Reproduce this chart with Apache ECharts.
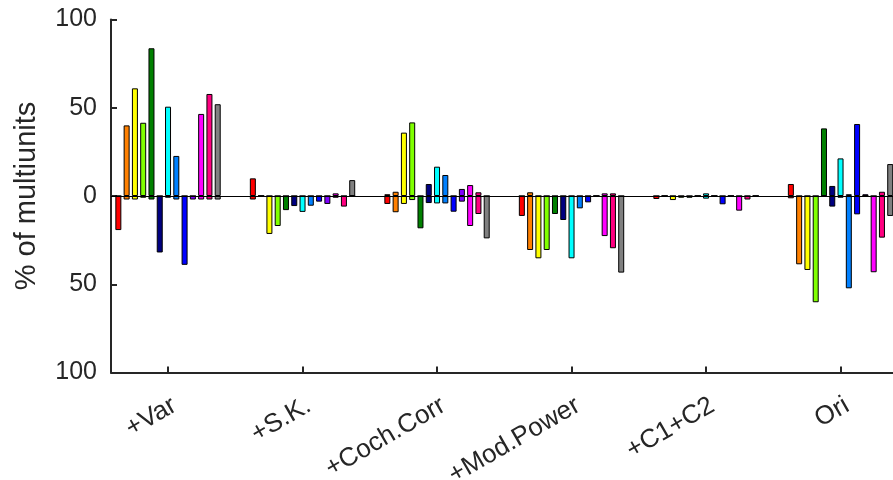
<!DOCTYPE html>
<html>
<head>
<meta charset="utf-8">
<title>% of multiunits</title>
<script src="https://cdn.jsdelivr.net/npm/echarts@6/dist/echarts.min.js"></script>
<style>
  html, body { margin: 0; padding: 0; background: #fff; }
  #chart { width: 893px; height: 480px; }
</style>
</head>
<body>
<div id="chart"></div>
<script>
// Feature sets on the x axis
const groups = ['+Var', '+S.K.', '+Coch.Corr', '+Mod.Power', '+C1+C2', 'Ori'];
const groupPos = [1, 2, 3, 4, 5, 6];
const yTicks = [-100, -50, 0, 50, 100];

// One colour per unit class
const colors = ['#ff0000', '#ff8000', '#ffff00', '#80ff00', '#008000', '#000080',
                '#00ffff', '#0080ff', '#0000ff', '#8000ff', '#ff00ff', '#ff0080', '#808080'];

// Percentage of multiunits that increased (rows: unit class, cols: feature set)
const increased = [
  [0,    10,  1,    0,   0,   6.8],
  [40,   0,   2.4,  2.1, 0,   0],
  [61,   0,   35.9, 0,   0,   0],
  [41.5, 0,   41.7, 0,   0,   0],
  [83.7, 0,   0,    0,   0,   38.3],
  [0,    0,   6.8,  0,   0,   5.7],
  [50.6, 0,   16.6, 0,   1.5, 21.3],
  [22.7, 0,   11.9, 0,   0,   1],
  [0,    0,   0,    0,   0,   40.8],
  [0,    0,   4,    0,   0,   1],
  [46.5, 1.5, 6.2,  1.5, 0,   0],
  [57.8, 0,   2.1,  1.5, 0,   2.4],
  [52,   9,   0,    0,   0,   18.1]
];

// Percentage of multiunits that decreased (plotted below zero)
const decreased = [
  [-19.3, -2,    -4.5,  -11.3, -1.7, -1.3],
  [-2,    0,     -9.2,  -30.6, 0,    -38.7],
  [-2,    -21.5, -4.5,  -35.3, -2.3, -41.9],
  [-1,    -17,   -2.3,  -30.6, -1,   -60.2],
  [-2,    -8,    -18.3, -10.2, -1,   0],
  [-32,   -5.7,  -4,    -13.6, 0,    -6],
  [-1,    -9,    -4.2,  -35.3, -1.5, -1],
  [-2,    -5.5,  -4.2,  -7,    0,    -52.3],
  [-39,   -3.2,  -8.9,  -3.6,  -4.7, -10.4],
  [-2,    -4.5,  -3.2,  0,     0,    0],
  [-2,    -1,    -17,   -22.7, -8.3, -43.2],
  [-2,    -6,    -10.2, -29.6, -2,   -23.6],
  [-2,    0,     -24,   -43.4, 0,    -11.3]
];

const axisColor = '#262626';
const fontFamily = '"Liberation Sans", Arial, Helvetica, sans-serif';

const chart = echarts.init(document.getElementById('chart'), null, { renderer: 'canvas' });

const series = colors.map((c, i) => {
  const s = {
    type: 'bar',
    name: 'class ' + (i + 1),
    data: groupPos.flatMap((x, g) => [[x, increased[i][g]], [x, decreased[i][g]]]),
    barWidth: 6,
    barGap: '38%',
    itemStyle: { color: c, borderColor: '#000', borderWidth: 1 },
    emphasis: { disabled: true },
    animation: false
  };
  if (i === colors.length - 1) {
    // bar baseline at zero
    s.markLine = {
      silent: true,
      symbol: 'none',
      label: { show: false },
      lineStyle: { color: '#000', width: 1, type: 'solid' },
      data: [{ yAxis: 0 }],
      animation: false
    };
  }
  return s;
});

chart.setOption({
  backgroundColor: '#fff',
  animation: false,
  grid: { left: 111, right: 0, top: 19.5, bottom: 107.5, outerBoundsMode: 'none', containLabel: false },
  xAxis: {
    type: 'value',
    min: 0.576,
    max: 6.39,
    axisLine: { show: true, onZero: false, lineStyle: { color: axisColor, width: 2 } },
    axisTick: { show: true, inside: true, length: 6, customValues: groupPos,
                lineStyle: { color: axisColor, width: 2 } },
    axisLabel: {
      customValues: groupPos,
      formatter: v => groups[groupPos.indexOf(v)] || '',
      rotate: 30,
      margin: 20,
      verticalAlign: 'top',
      fontSize: 26,
      color: axisColor,
      fontFamily: fontFamily
    },
    splitLine: { show: false }
  },
  yAxis: {
    type: 'value',
    min: yTicks[0],
    max: yTicks[yTicks.length - 1],
    interval: 50,
    name: '% of multiunits',
    nameLocation: 'middle',
    nameRotate: 90,
    nameGap: 70,
    nameTextStyle: { fontSize: 29, color: axisColor, fontFamily: fontFamily },
    axisLine: { show: true, lineStyle: { color: axisColor, width: 2 } },
    axisTick: { show: true, inside: true, length: 6, lineStyle: { color: axisColor, width: 2 } },
    axisLabel: {
      formatter: v => String(Math.abs(v)),
      margin: 14,
      fontSize: 25,
      color: axisColor,
      fontFamily: fontFamily
    },
    splitLine: { show: false }
  },
  series: series
});
</script>
</body>
</html>
